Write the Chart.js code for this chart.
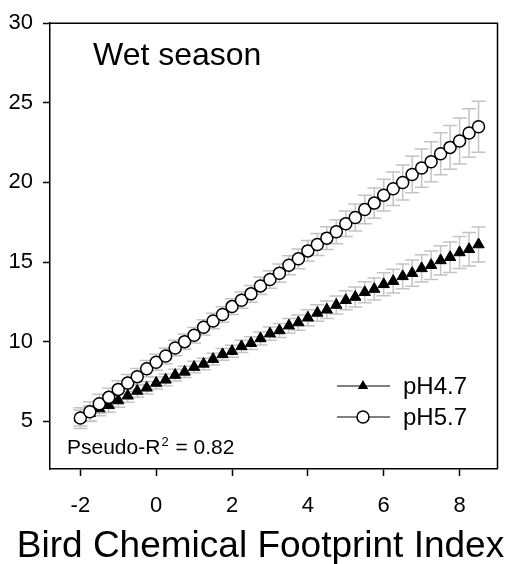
<!DOCTYPE html>
<html lang="en">
<head>
<meta charset="UTF-8">
<title>Wet season</title>
<script src="https://cdn.jsdelivr.net/npm/chart.js@4.4.1/dist/chart.umd.min.js"></script>
<style>
  html, body { margin: 0; padding: 0; background: #fff; }
  #box { width: 505px; height: 564px; }
</style>
</head>
<body>
<div id="box"><canvas id="grafico"></canvas></div>
<script>
// x values (footprint index) shared by both series
const footprint = [-2, -1.75, -1.5, -1.25, -1, -0.75, -0.5, -0.25, 0, 0.25, 0.5, 0.75,
  1, 1.25, 1.5, 1.75, 2, 2.25, 2.5, 2.75, 3, 3.25, 3.5, 3.75, 4, 4.25, 4.5, 4.75,
  5, 5.25, 5.5, 5.75, 6, 6.25, 6.5, 6.75, 7, 7.25, 7.5, 7.75, 8, 8.25, 8.5];

const ph57 = [5.2, 5.6, 6.1, 6.5, 7.0, 7.4, 7.8, 8.3, 8.7, 9.1, 9.6, 10.0,
  10.4, 10.9, 11.3, 11.7, 12.2, 12.6, 13.0, 13.5, 13.9, 14.3, 14.8, 15.2,
  15.7, 16.1, 16.5, 16.9, 17.4, 17.8, 18.3, 18.7, 19.2, 19.6, 20.0, 20.5,
  20.9, 21.3, 21.8, 22.2, 22.6, 23.1, 23.5];
const ph57Err = [0.65, 0.62, 0.6, 0.57, 0.55, 0.54, 0.52, 0.51, 0.5, 0.49, 0.49, 0.48,
  0.48, 0.48, 0.49, 0.49, 0.5, 0.51, 0.52, 0.54, 0.55, 0.57, 0.6, 0.62,
  0.65, 0.69, 0.72, 0.76, 0.8, 0.85, 0.9, 0.95, 1.0, 1.05, 1.1, 1.15,
  1.2, 1.26, 1.32, 1.38, 1.45, 1.52, 1.6];

const ph47 = [5.2, 5.5, 5.8, 6.0, 6.3, 6.6, 6.9, 7.1, 7.4, 7.6, 7.9, 8.1,
  8.4, 8.6, 8.9, 9.2, 9.4, 9.7, 9.9, 10.2, 10.5, 10.7, 11.0, 11.2,
  11.5, 11.8, 12.0, 12.3, 12.6, 12.8, 13.1, 13.3, 13.6, 13.8, 14.1, 14.3,
  14.6, 14.8, 15.1, 15.3, 15.6, 15.8, 16.1];
const ph47Err = [0.5, 0.48, 0.46, 0.44, 0.42, 0.41, 0.4, 0.39, 0.38, 0.37, 0.37, 0.36,
  0.36, 0.36, 0.37, 0.37, 0.38, 0.39, 0.4, 0.41, 0.42, 0.44, 0.46, 0.48,
  0.5, 0.52, 0.55, 0.57, 0.6, 0.63, 0.66, 0.69, 0.72, 0.75, 0.78, 0.82,
  0.85, 0.89, 0.92, 0.96, 1.0, 1.05, 1.1];

const xTicks = [-2, 0, 2, 4, 6, 8];
const yTicks = [5, 10, 15, 20, 25, 30];

const fonte = '"Liberation Sans", Arial, sans-serif';

function pontos(ys) {
  return footprint.map((x, i) => ({ x: x, y: ys[i] }));
}

// grey error bars under the markers
const barrasErro = {
  id: 'barrasErro',
  beforeDatasetsDraw(chart) {
    const ctx = chart.ctx;
    const xs = chart.scales.x, ys = chart.scales.y;
    const erros = [ph57Err, ph47Err];
    ctx.save();
    ctx.strokeStyle = '#c4c4c4';
    ctx.lineWidth = 1.5;
    chart.data.datasets.forEach((ds, d) => {
      ds.data.forEach((p, i) => {
        const px = xs.getPixelForValue(p.x);
        const top = ys.getPixelForValue(p.y + erros[d][i]);
        const bot = ys.getPixelForValue(p.y - erros[d][i]);
        ctx.beginPath();
        ctx.moveTo(px, top); ctx.lineTo(px, bot);
        ctx.moveTo(px - 7, top); ctx.lineTo(px + 7, top);
        ctx.moveTo(px - 7, bot); ctx.lineTo(px + 7, bot);
        ctx.stroke();
      });
    });
    ctx.restore();
  }
};

function triangulo(ctx, x, y, r) {
  ctx.beginPath();
  ctx.moveTo(x, y - r);
  ctx.lineTo(x + Math.sin(2 * Math.PI / 3) * r, y + r / 2);
  ctx.lineTo(x - Math.sin(2 * Math.PI / 3) * r, y + r / 2);
  ctx.closePath();
  ctx.fill();
}

// frame, labels, axis title and legend
const extras = {
  id: 'extras',
  afterDraw(chart) {
    const ctx = chart.ctx;
    const a = chart.chartArea;
    ctx.save();
    ctx.strokeStyle = '#000';
    ctx.lineWidth = 1.5;
    ctx.beginPath();
    ctx.moveTo(a.left, a.top); ctx.lineTo(a.right, a.top); ctx.lineTo(a.right, a.bottom);
    ctx.stroke();

    ctx.fillStyle = '#000';
    ctx.textBaseline = 'alphabetic';
    ctx.textAlign = 'center';
    ctx.font = '37px ' + fonte;
    ctx.fillText('Bird Chemical Footprint Index', 260.5, 557);

    ctx.textAlign = 'left';
    ctx.font = '32px ' + fonte;
    ctx.fillText('Wet season', 93, 65);

    ctx.font = '21px ' + fonte;
    ctx.fillText('Pseudo-R', 67, 454);
    let w = ctx.measureText('Pseudo-R').width;
    ctx.font = '13px ' + fonte;
    ctx.fillText('2', 67 + w + 1, 446);
    let w2 = ctx.measureText('2').width;
    ctx.font = '21px ' + fonte;
    ctx.fillText(' = 0.82', 67 + w + w2 + 2, 454);

    // legend rows
    const linhas = [
      { y: 386, nome: 'pH4.7', tri: true },
      { y: 417, nome: 'pH5.7', tri: false }
    ];
    linhas.forEach(l => {
      ctx.strokeStyle = '#000';
      ctx.lineWidth = 1;
      ctx.beginPath();
      ctx.moveTo(337, l.y); ctx.lineTo(390, l.y);
      ctx.stroke();
      if (l.tri) {
        ctx.fillStyle = '#000';
        triangulo(ctx, 363, l.y, 6);
      } else {
        ctx.fillStyle = '#fff';
        ctx.lineWidth = 1.5;
        ctx.beginPath();
        ctx.arc(363, l.y, 6, 0, Math.PI * 2);
        ctx.fill();
        ctx.stroke();
      }
      ctx.fillStyle = '#000';
      ctx.font = '24px ' + fonte;
      ctx.textBaseline = 'middle';
      ctx.fillText(l.nome, 403, l.y + 1);
    });
    ctx.restore();
  }
};

new Chart(document.getElementById('grafico'), {
  type: 'scatter',
  data: {
    datasets: [
      {
        label: 'pH5.7',
        data: pontos(ph57),
        pointStyle: 'circle',
        pointRadius: 6,
        pointBorderWidth: 1.5,
        pointBorderColor: '#000',
        pointBackgroundColor: '#fff',
        showLine: false
      },
      {
        label: 'pH4.7',
        data: pontos(ph47),
        pointStyle: 'triangle',
        pointRadius: 6.5,
        pointBorderWidth: 1,
        pointBorderColor: '#000',
        pointBackgroundColor: '#000',
        showLine: false
      }
    ]
  },
  options: {
    responsive: true,
    maintainAspectRatio: false,
    animation: false,
    events: [],
    layout: { padding: { top: 15, right: 2, left: 0, bottom: 0 } },
    plugins: { legend: { display: false }, tooltip: { enabled: false } },
    scales: {
      x: {
        type: 'linear',
        min: -2.8,
        max: 9,
        afterBuildTicks: s => { s.ticks = xTicks.map(v => ({ value: v })); },
        afterFit: s => { s.height = 95; },
        border: { display: true, color: '#000', width: 1.5 },
        grid: { display: true, drawOnChartArea: false, drawTicks: true, tickLength: 7, tickColor: '#000', tickWidth: 1.5 },
        ticks: { color: '#000', font: { family: fonte, size: 22 }, padding: 17, maxRotation: 0 }
      },
      y: {
        type: 'linear',
        min: 2,
        max: 30,
        afterBuildTicks: s => { s.ticks = yTicks.map(v => ({ value: v })); },
        afterFit: s => { s.width = 50; },
        border: { display: true, color: '#000', width: 1.5 },
        grid: { display: true, drawOnChartArea: false, drawTicks: true, tickLength: 7, tickColor: '#000', tickWidth: 1.5 },
        ticks: { color: '#000', font: { family: fonte, size: 22 }, padding: 10 }
      }
    }
  },
  plugins: [barrasErro, extras]
});
</script>
</body>
</html>
